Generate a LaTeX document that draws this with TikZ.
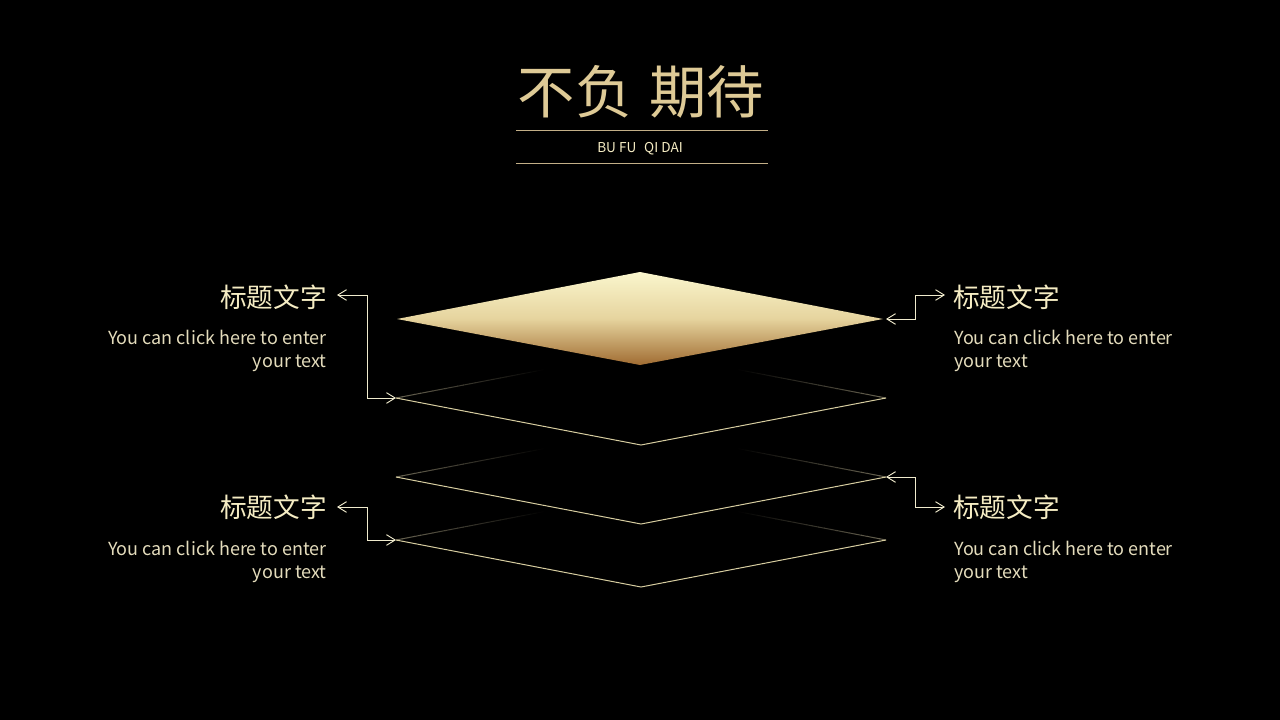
\documentclass[tikz,border=0pt]{standalone}
\usepackage{fontspec}
\setmainfont{Noto Sans CJK SC}
\newfontfamily\cjk{Noto Sans CJK SC}
\usetikzlibrary{arrows.meta,calc}
\definecolor{gold}{RGB}{222,202,150}
\definecolor{goldlt}{RGB}{245,236,195}
\definecolor{cream}{RGB}{240,235,205}
\definecolor{bodytxt}{RGB}{228,220,188}
\definecolor{edge}{RGB}{215,205,160}
\definecolor{edgetop}{RGB}{105,100,82}
\definecolor{rulec}{RGB}{195,175,135}
\definecolor{dtop}{RGB}{250,246,205}
\definecolor{dbot}{RGB}{160,108,50}
\tikzset{
  head/.style={text=goldlt,font=\cjk\fontsize{20}{20}\selectfont,inner sep=0pt},
  bodyr/.style={text=bodytxt,font=\fontsize{13.5}{17.3}\selectfont,align=right,inner sep=0pt,anchor=north east},
  bodyl/.style={text=bodytxt,font=\fontsize{13.5}{17.3}\selectfont,align=left,inner sep=0pt,anchor=north west},
  conn/.style={draw=cream,line width=0.7pt,{Straight Barb[length=6.5pt,width=8pt]}-{Straight Barb[length=6.5pt,width=8pt]}},
  outline/.style={draw=edge,line width=0.75pt,line join=miter},
}
\newcommand{\fadeedge}[2]{%
  \foreach \i in {0,...,23}{%
    \pgfmathsetmacro{\ta}{\i*0.025}%
    \pgfmathsetmacro{\tb}{(\i+1)*0.025+0.002}%
    \pgfmathsetmacro{\pc}{100-\i*4.2}%
    \draw[color=edgetop!\pc!black,line width=0.75pt] ($(#1)!\ta!(#2)$) -- ($(#1)!\tb!(#2)$);
  }}
\begin{document}
\begin{tikzpicture}[x=0.75pt,y=-0.75pt]
\fill[black] (0,0) rectangle (1280,720);
\useasboundingbox (0,0) rectangle (1280,720);

% title
\node[text=gold,font=\cjk\fontsize{43}{43}\selectfont,inner sep=0pt] (title) at (641,92) {不负\hspace{0.3em}期待};
\draw[rulec,line width=0.75pt] (516,131) coordinate (r1a) -- (768,131) coordinate (r1b);
\draw[rulec,line width=0.75pt] (516,164) coordinate (r2a) -- (768,164) coordinate (r2b);
\node[text=goldlt,font=\fontsize{10.2}{10.2}\selectfont,inner sep=0pt] (sub) at (640,149) {BU FU\hspace{0.35em} QI DAI};

% diamonds coordinates
\foreach \n/\y in {2/398,3/477,4/540}{
  \coordinate (d\n L) at (396,\y);
  \coordinate (d\n R) at (886,\y);
  \coordinate (d\n T) at (641,\y-47);
  \coordinate (d\n B) at (641,\y+47);
}
% faded upper edges
\foreach \n in {2,3,4}{
  \fadeedge{d\n L}{d\n T}
  \fadeedge{d\n R}{d\n T}
  \draw[outline] (d\n L) -- (d\n B) -- (d\n R);
}

% top filled diamond
\coordinate (d1L) at (397,319);
\coordinate (d1R) at (883,319);
\coordinate (d1T) at (640,272);
\coordinate (d1B) at (640,365);
\shade[top color=dtop,bottom color=dbot,middle color={rgb,255:red,230;green,212;blue,158}] (d1L) -- (d1T) -- (d1R) -- (d1B) -- cycle;

% text blocks
\node[head,anchor=east] (h1) at (327,297) {标题文字};
\node[bodyr] (b1) at (327,329.5) {You can click here to enter\\your text};
\node[head,anchor=west] (h2) at (953,297) {标题文字};
\node[bodyl] (b2) at (954,329.5) {You can click here to enter\\your text};
\node[head,anchor=east] (h3) at (327,507) {标题文字};
\node[bodyr] (b3) at (327,540.5) {You can click here to enter\\your text};
\node[head,anchor=west] (h4) at (953,507) {标题文字};
\node[bodyl] (b4) at (954,540.5) {You can click here to enter\\your text};

% connector end points
\coordinate (a1) at (337,295);
\coordinate (a2) at (945,295);
\coordinate (a3) at (337,507);
\coordinate (a4) at (945,507);

\draw[conn] (a1) -- ++(30,0) |- (d2L);
\draw[conn] (d1R) ++(3,0) coordinate (d1Rt) (d1Rt) -- ++(29,0) |- (a2);
\draw[conn] (a3) -- ++(30,0) |- (d4L);
\draw[conn] (d3R) -- ++(29,0) |- (a4);
\end{tikzpicture}
\end{document}
